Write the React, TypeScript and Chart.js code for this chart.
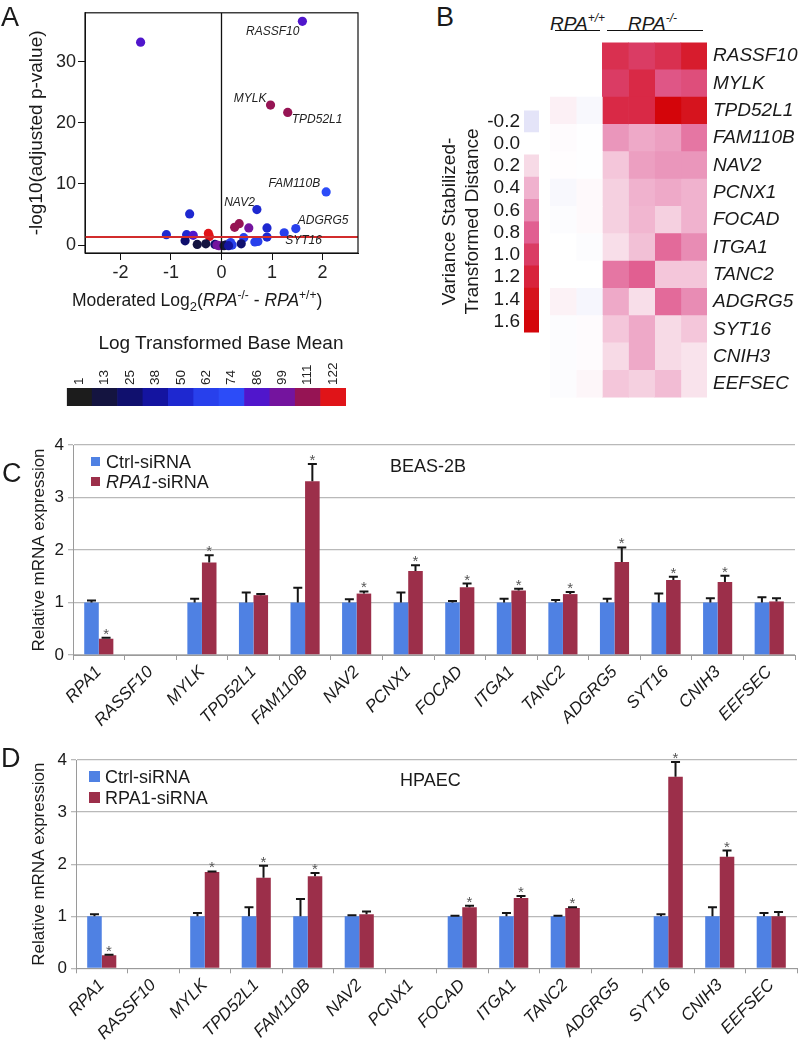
import React, { useEffect, useRef } from "react";
import { Chart, registerables } from "chart.js";

Chart.register(...registerables);

const FONT = "'Liberation Sans', Arial, Helvetica, sans-serif";
Chart.defaults.font.family = FONT;
Chart.defaults.color = "#222";

// ---------------- Panel A: volcano plot ----------------
const volcanoX = [-1.6, 1.6, 0.97, 1.31, 2.07, 0.7, -0.63, 1.47, 1.24, 0.9, 0.9, 0.54, 0.35, 0.26, -0.26, -0.24, -1.09, -0.69, -0.56, -0.72, 0.44, 0.39, 0.66, 0.72, -0.48, -0.31, -0.13, -0.09, -0.05, 0.09, 0.18, 0.21, 0.05, 0.14];
const volcanoY = [33.2, 36.6, 22.9, 21.7, 8.7, 5.8, 5.1, 2.7, 2.0, 2.8, 1.3, 2.8, 3.5, 2.9, 1.9, 1.4, 1.7, 1.7, 1.6, 0.7, 1.2, 0.2, 0.5, 0.6, 0.1, 0.2, 0.1, 0.0, -0.1, 0.05, 0.4, 0.0, -0.1, -0.1];
const volcanoBaseMean = [86, 86, 111, 111, 74, 50, 50, 62, 62, 50, 50, 99, 111, 111, 122, 122, 50, 50, 86, 25, 62, 25, 62, 62, 13, 13, 25, 99, 99, 25, 62, 62, 13, 38];
const volcanoGene = ["", "RASSF10", "MYLK", "TPD52L1", "FAM110B", "NAV2", "", "ADGRG5", "SYT16", "", "", "", "", "", "", "", "", "", "", "", "", "", "", "", "", "", "", "", "", "", "", "", "", ""];
const volcanoXTicks = [-2, -1, 0, 1, 2];
const volcanoYTicks = [0, 10, 20, 30];
const pThreshold = [1.3];

const baseMeanTicks = [1, 13, 25, 38, 50, 62, 74, 86, 99, 111, 122];
const baseMeanColors = ["#1c1c1c", "#141440", "#10106e", "#1414a0", "#1e28d0", "#2840ec", "#2c4cf8", "#5016cc", "#74149e", "#961454", "#e01418"];

// ---------------- Panel B: heatmap ----------------
const heatGenes = ["RASSF10", "MYLK", "TPD52L1", "FAM110B", "NAV2", "PCNX1", "FOCAD", "ITGA1", "TANC2", "ADGRG5", "SYT16", "CNIH3", "EEFSEC"];
const heatRASSF10 = [null, null, 1.1, 1.0, 1.1, 1.3];
const heatMYLK = [null, null, 1.0, 1.15, 0.85, 0.9];
const heatTPD52L1 = [0.08, -0.05, 1.15, 1.15, 1.6, 1.4];
const heatFAM110B = [0.02, -0.01, 0.55, 0.45, 0.5, 0.7];
const heatNAV2 = [0.01, -0.01, 0.3, 0.5, 0.55, 0.55];
const heatPCNX1 = [-0.05, 0.03, 0.25, 0.4, 0.45, 0.4];
const heatFOCAD = [-0.02, 0.03, 0.25, 0.38, 0.25, 0.4];
const heatITGA1 = [0, -0.02, 0.18, 0.33, 0.75, 0.6];
const heatTANC2 = [0, 0, 0.7, 0.8, 0.3, 0.3];
const heatADGRG5 = [0.07, -0.07, 0.45, 0.18, 0.75, 0.6];
const heatSYT16 = [-0.02, 0.02, 0.3, 0.45, 0.2, 0.3];
const heatCNIH3 = [-0.02, 0.02, 0.2, 0.45, 0.2, 0.15];
const heatEEFSEC = [-0.02, 0.05, 0.3, 0.25, 0.35, 0.15];
const heatRows = [heatRASSF10, heatMYLK, heatTPD52L1, heatFAM110B, heatNAV2, heatPCNX1, heatFOCAD, heatITGA1, heatTANC2, heatADGRG5, heatSYT16, heatCNIH3, heatEEFSEC];
const heatColumns = ["WT1", "WT2", "KO1", "KO2", "KO3", "KO4"];

const distanceTicks = [-0.2, 0.0, 0.2, 0.4, 0.6, 0.8, 1.0, 1.2, 1.4, 1.6];
const distanceColors: number[][] = [
  [228, 228, 248], [255, 255, 255], [247, 218, 230], [240, 178, 206], [232, 140, 180],
  [225, 95, 145], [218, 60, 100], [216, 35, 60], [214, 20, 30], [212, 5, 10],
];

// ---------------- Panels C & D: qPCR ----------------
const qpcrGenes = ["RPA1", "RASSF10", "MYLK", "TPD52L1", "FAM110B", "NAV2", "PCNX1", "FOCAD", "ITGA1", "TANC2", "ADGRG5", "SYT16", "CNIH3", "EEFSEC"];
const qpcrYTicks = [0, 1, 2, 3, 4];

const beasCtrl = [1, null, 1, 1, 1, 1, 1, 1, 1, 1, 1, 1, 1, 1];
const beasCtrlErr = [0.04, null, 0.07, 0.19, 0.28, 0.06, 0.19, 0.03, 0.07, 0.05, 0.07, 0.17, 0.08, 0.1];
const beasRpa = [0.31, null, 1.76, 1.14, 3.31, 1.17, 1.6, 1.29, 1.23, 1.16, 1.77, 1.43, 1.39, 1.02];
const beasRpaErr = [0.02, null, 0.14, 0.02, 0.33, 0.04, 0.11, 0.07, 0.03, 0.04, 0.28, 0.06, 0.12, 0.06];
const beasStar = [1, 0, 1, 0, 1, 1, 1, 1, 1, 1, 1, 1, 1, 0];

const hpaecCtrl = [1, null, 1, 1, 1, 1, null, 1, 1, 1, null, 1, 1, 1];
const hpaecCtrlErr = [0.04, null, 0.06, 0.17, 0.33, 0.02, null, 0.01, 0.06, 0.01, null, 0.04, 0.17, 0.06];
const hpaecRpa = [0.25, null, 1.85, 1.74, 1.77, 1.04, null, 1.17, 1.35, 1.16, null, 3.68, 2.14, 1.0];
const hpaecRpaErr = [0.01, null, 0.01, 0.23, 0.06, 0.05, null, 0.03, 0.04, 0.01, null, 0.28, 0.12, 0.08];
const hpaecStar = [1, 0, 1, 1, 1, 0, 0, 1, 1, 1, 0, 1, 1, 0];

const CTRL_COLOR = "#4f81e3";
const RPA_COLOR = "#9c2f4a";

// ---------------- helpers ----------------
function meanColor(v: number) {
  let best = 0;
  baseMeanTicks.forEach((t, i) => {
    if (Math.abs(t - v) < Math.abs(baseMeanTicks[best] - v)) best = i;
  });
  return baseMeanColors[best];
}

function distColor(v: number | null) {
  if (v == null) return "rgba(0,0,0,0)";
  const lo = distanceTicks[0];
  const step = 0.2;
  let f = (v - lo) / step;
  f = Math.max(0, Math.min(distanceTicks.length - 1, f));
  const i = Math.min(distanceTicks.length - 2, Math.floor(f));
  const t = f - i;
  const a = distanceColors[i];
  const b = distanceColors[i + 1];
  const c = a.map((x, k) => Math.round(x + (b[k] - x) * t));
  return `rgb(${c[0]},${c[1]},${c[2]})`;
}

const boxPlugin = {
  id: "box",
  afterDraw(chart: any) {
    const { ctx, chartArea: a } = chart;
    ctx.save();
    ctx.strokeStyle = "#111";
    ctx.lineWidth = 1.2;
    ctx.strokeRect(a.left, a.top, a.right - a.left, a.bottom - a.top);
    ctx.restore();
  },
};

const labelOffsets: Record<string, [number, number, CanvasTextAlign]> = {
  RASSF10: [-3, 10, "right"],
  MYLK: [-4, -6, "right"],
  TPD52L1: [4, 7, "left"],
  FAM110B: [-6, -8, "right"],
  NAV2: [-2, -7, "right"],
  ADGRG5: [2, -8, "left"],
  SYT16: [1, 8, "left"],
};

const geneLabelPlugin = {
  id: "geneLabels",
  afterDatasetsDraw(chart: any) {
    const { ctx, scales } = chart;
    ctx.save();
    ctx.font = `italic 12px ${FONT}`;
    ctx.fillStyle = "#222";
    ctx.textBaseline = "middle";
    volcanoGene.forEach((g, i) => {
      if (!g) return;
      const off = labelOffsets[g] || [4, 0, "left"];
      const px = scales.x.getPixelForValue(volcanoX[i]);
      const py = scales.y.getPixelForValue(volcanoY[i]);
      ctx.textAlign = off[2];
      ctx.fillText(g, px + off[0], py + off[1]);
    });
    ctx.restore();
  },
};

const errorBarPlugin = {
  id: "errorBars",
  afterDatasetsDraw(chart: any) {
    const { ctx } = chart;
    const y = chart.scales.y;
    chart.data.datasets.forEach((ds: any, di: number) => {
      const meta = chart.getDatasetMeta(di);
      meta.data.forEach((bar: any, i: number) => {
        const v = ds.data[i];
        if (v == null) return;
        const e = (ds.errors && ds.errors[i]) || 0;
        const base = y.getPixelForValue(v);
        const top = y.getPixelForValue(v + e);
        ctx.save();
        ctx.strokeStyle = "#151515";
        ctx.lineWidth = 2;
        ctx.beginPath();
        ctx.moveTo(bar.x, base);
        ctx.lineTo(bar.x, top);
        ctx.moveTo(bar.x - 4.5, top);
        ctx.lineTo(bar.x + 4.5, top);
        ctx.stroke();
        if (ds.stars && ds.stars[i]) {
          ctx.fillStyle = "#555";
          ctx.font = `15px ${FONT}`;
          ctx.textAlign = "center";
          ctx.textBaseline = "alphabetic";
          ctx.fillText("*", bar.x, top + 1);
        }
        ctx.restore();
      });
    });
  },
};

function ChartCanvas({ left, top, width, height, make }: any) {
  const ref = useRef<HTMLCanvasElement>(null);
  useEffect(() => {
    const chart = new Chart(ref.current as HTMLCanvasElement, make());
    return () => chart.destroy();
  }, []);
  return (
    <canvas
      ref={ref}
      width={width}
      height={height}
      style={{ position: "absolute", left, top, width, height }}
    />
  );
}

function Txt({ x, y, size, italic, bold, anchor, children }: any) {
  const style: any = {
    position: "absolute",
    top: y - size * 0.49,
    fontSize: size,
    lineHeight: 1,
    fontFamily: FONT,
    fontStyle: italic ? "italic" : "normal",
    fontWeight: bold ? "bold" : "normal",
    color: "#1a1a1a",
    whiteSpace: "nowrap",
  };
  if (anchor === "middle") {
    style.left = x;
    style.transform = "translateX(-50%)";
  } else if (anchor === "end") {
    style.right = 802 - x;
  } else {
    style.left = x;
  }
  return <div style={style}>{children}</div>;
}

function Line({ x1, x2, y }: any) {
  return <div style={{ position: "absolute", left: x1, top: y, width: x2 - x1, height: 0, borderTop: "1.5px solid #111" }} />;
}

function Swatch({ x, y, size, color }: any) {
  return <div style={{ position: "absolute", left: x, top: y, width: size, height: size, background: color }} />;
}

// ---------------- chart configs ----------------
function volcanoConfig(): any {
  const pts = volcanoX.map((x, i) => ({ x, y: volcanoY[i] }));
  return {
    type: "scatter",
    data: {
      datasets: [
        {
          data: [{ x: 0, y: -1.3 }, { x: 0, y: 38 }],
          showLine: true,
          borderColor: "#111",
          borderWidth: 1.3,
          pointRadius: 0,
          order: 1,
        },
        {
          data: [{ x: -2.7, y: pThreshold[0] }, { x: 2.7, y: pThreshold[0] }],
          showLine: true,
          borderColor: "#d22c2c",
          borderWidth: 2,
          pointRadius: 0,
          order: 0,
        },
        {
          data: pts,
          pointBackgroundColor: volcanoBaseMean.map(meanColor),
          pointBorderWidth: 0,
          pointRadius: 4.6,
          order: 2,
        },
      ],
    },
    options: {
      responsive: false,
      animation: false,
      devicePixelRatio: 1,
      layout: { padding: { left: 0, right: 7, top: 8, bottom: 0 } },
      plugins: { legend: { display: false }, tooltip: { enabled: false } },
      scales: {
        x: {
          type: "linear",
          min: -2.7,
          max: 2.7,
          afterBuildTicks: (s: any) => { s.ticks = volcanoXTicks.map((v) => ({ value: v })); },
          ticks: { font: { size: 18 }, color: "#222", padding: 2 },
          grid: { drawOnChartArea: false, tickLength: 7, color: "#111" },
          border: { display: true, color: "#111" },
          afterFit: (s: any) => { s.height = 37; },
        },
        y: {
          type: "linear",
          min: -1.3,
          max: 38,
          afterBuildTicks: (s: any) => { s.ticks = volcanoYTicks.map((v) => ({ value: v })); },
          ticks: { font: { size: 18 }, color: "#222", padding: 2 },
          grid: { drawOnChartArea: false, tickLength: 7, color: "#111" },
          border: { display: true, color: "#111" },
          title: { display: true, text: "-log10(adjusted p-value)", font: { size: 19 }, color: "#1a1a1a", padding: { top: 25, bottom: 0 } },
          afterFit: (s: any) => { s.width = 85; },
        },
      },
    },
    plugins: [boxPlugin, geneLabelPlugin],
  };
}

function baseMeanBarConfig(): any {
  return {
    type: "bar",
    data: {
      labels: baseMeanTicks.map(String),
      datasets: [{ data: baseMeanTicks.map(() => [0, 1]), backgroundColor: baseMeanColors, barPercentage: 1, categoryPercentage: 1, borderWidth: 0 }],
    },
    options: {
      responsive: false,
      animation: false,
      devicePixelRatio: 1,
      layout: { padding: { left: 6, right: 6, top: 2, bottom: 4 } },
      plugins: { legend: { display: false }, tooltip: { enabled: false } },
      scales: {
        x: {
          position: "top",
          ticks: { minRotation: 90, maxRotation: 90, font: { size: 13.5 }, color: "#222", padding: 3, autoSkip: false, labelOffset: 16 },
          grid: { display: false, drawTicks: false },
          border: { display: false },
          afterFit: (s: any) => { s.height = 37; },
        },
        y: { display: false, min: 0, max: 1 },
      },
    },
  };
}

function heatmapConfig(): any {
  return {
    type: "bar",
    data: {
      labels: heatGenes,
      datasets: heatColumns.map((name, j) => ({
        label: name,
        data: heatRows.map((row) => (row[j] == null ? null : [j, j + 1])),
        backgroundColor: heatRows.map((row) => distColor(row[j])),
        grouped: false,
        barPercentage: 1,
        categoryPercentage: 1,
        borderWidth: 0,
      })),
    },
    options: {
      indexAxis: "y",
      responsive: false,
      animation: false,
      devicePixelRatio: 1,
      layout: { padding: { left: 5, right: 0, top: 8.3, bottom: 5 } },
      plugins: { legend: { display: false }, tooltip: { enabled: false } },
      scales: {
        x: { type: "linear", min: 0, max: 6, display: false },
        y: {
          position: "right",
          ticks: { font: { size: 19, style: "italic" }, color: "#1a1a1a", padding: 6, autoSkip: false },
          grid: { display: false, drawTicks: false },
          border: { display: false },
          afterFit: (s: any) => { s.width = 95; },
        },
      },
    },
  };
}

function distanceBarConfig(): any {
  return {
    type: "bar",
    data: {
      labels: distanceTicks.map((v) => v.toFixed(1)),
      datasets: [{ data: distanceTicks.map(() => [0, 1]), backgroundColor: distanceTicks.map((v) => distColor(v)), barPercentage: 1, categoryPercentage: 1, borderWidth: 0 }],
    },
    options: {
      indexAxis: "y",
      responsive: false,
      animation: false,
      devicePixelRatio: 1,
      layout: { padding: { left: 0, right: 6, top: 5.7, bottom: 5.3 } },
      plugins: { legend: { display: false }, tooltip: { enabled: false } },
      scales: {
        x: { type: "linear", min: 0, max: 1, display: false },
        y: {
          position: "left",
          ticks: { font: { size: 19 }, color: "#1a1a1a", padding: 4, autoSkip: false },
          grid: { display: false, drawTicks: false },
          border: { display: false },
          title: { display: true, text: ["Variance Stabilized-", "Transformed Distance"], font: { size: 19 }, color: "#1a1a1a", padding: { top: 8.6, bottom: 0 } },
          afterFit: (s: any) => { s.width = 94; },
        },
      },
    },
  };
}

function qpcrConfig(ctrl: any[], ctrlErr: any[], rpa: any[], rpaErr: any[], stars: number[], yWidth: number, rightPad: number, xHeight: number): any {
  return {
    type: "bar",
    data: {
      labels: qpcrGenes,
      datasets: [
        { label: "Ctrl-siRNA", data: ctrl, backgroundColor: CTRL_COLOR, errors: ctrlErr, stars: ctrl.map(() => 0), borderWidth: 0 },
        { label: "RPA1-siRNA", data: rpa, backgroundColor: RPA_COLOR, errors: rpaErr, stars, borderWidth: 0 },
      ],
    },
    options: {
      responsive: false,
      animation: false,
      devicePixelRatio: 1,
      categoryPercentage: 0.565,
      barPercentage: 1,
      layout: { padding: { left: 0, right: rightPad, top: 15, bottom: 0 } },
      plugins: { legend: { display: false }, tooltip: { enabled: false } },
      scales: {
        x: {
          ticks: { font: { size: 17, style: "italic" }, color: "#1a1a1a", minRotation: 46, maxRotation: 46, padding: 2, autoSkip: false },
          grid: { drawOnChartArea: false, offset: true, tickLength: 5, color: "#9a9a9a" },
          border: { display: true, color: "#9a9a9a" },
          afterFit: (s: any) => { s.height = xHeight; },
        },
        y: {
          min: 0,
          max: 4,
          afterBuildTicks: (s: any) => { s.ticks = qpcrYTicks.map((v) => ({ value: v })); },
          ticks: { font: { size: 17 }, color: "#1a1a1a", padding: 4 },
          grid: { color: "#b9b9b9", lineWidth: 1.3, tickLength: 5 },
          border: { display: true, color: "#9a9a9a" },
          title: { display: true, text: "Relative mRNA expression", font: { size: 17 }, color: "#1a1a1a", padding: { top: 28.8, bottom: 0 } },
          afterFit: (s: any) => { s.width = yWidth; },
        },
      },
    },
    plugins: [errorBarPlugin],
  };
}

export default function App() {
  return (
    <div style={{ position: "absolute", left: 0, top: 0, width: 802, height: 1042, background: "#fff", overflow: "hidden", fontFamily: FONT }}>
      {/* Panel A */}
      <ChartCanvas left={0} top={0} width={365} height={290} make={volcanoConfig} />
      <Txt x={1} y={17} size={27}>A</Txt>
      <Txt x={72} y={298} size={17.5}>
        Moderated Log<sub style={{ fontSize: 13, verticalAlign: -5 }}>2</sub>(<i>RPA</i>
        <sup style={{ fontSize: 12, verticalAlign: 7 }}>-/-</sup> - <i>RPA</i>
        <sup style={{ fontSize: 12, verticalAlign: 7 }}>+/+</sup>)
      </Txt>
      <Txt x={221} y={342} size={19} anchor="middle">Log Transformed Base Mean</Txt>
      <ChartCanvas left={60} top={349} width={292} height={61} make={baseMeanBarConfig} />

      {/* Panel B */}
      <Txt x={436} y={17.5} size={27}>B</Txt>
      <Txt x={550} y={21} size={19} italic>
        RPA<sup style={{ fontSize: 12, verticalAlign: 8 }}>+/+</sup>
      </Txt>
      <Txt x={628} y={21} size={19} italic>
        RPA<sup style={{ fontSize: 12, verticalAlign: 8 }}>-/-</sup>
      </Txt>
      <Line x1={555} x2={600} y={30} />
      <Line x1={607} x2={703} y={30} />
      <ChartCanvas left={430} top={95} width={115} height={253} make={distanceBarConfig} />
      <ChartCanvas left={545} top={25} width={257} height={390} make={heatmapConfig} />

      {/* Panel C */}
      <ChartCanvas left={0} top={430} width={802} height={310}
        make={() => qpcrConfig(beasCtrl, beasCtrlErr, beasRpa, beasRpaErr, beasStar, 73, 7, 85)} />
      <Txt x={2} y={473} size={27}>C</Txt>
      <Swatch x={91} y={457} size={9} color={CTRL_COLOR} />
      <Txt x={106} y={462} size={18}>Ctrl-siRNA</Txt>
      <Swatch x={91} y={477} size={9} color={RPA_COLOR} />
      <Txt x={106} y={482} size={18}><i>RPA1</i>-siRNA</Txt>
      <Txt x={390} y={466} size={18}>BEAS-2B</Txt>

      {/* Panel D */}
      <ChartCanvas left={0} top={745} width={802} height={297}
        make={() => qpcrConfig(hpaecCtrl, hpaecCtrlErr, hpaecRpa, hpaecRpaErr, hpaecStar, 76, 5, 73.7)} />
      <Txt x={1} y={758} size={27}>D</Txt>
      <Swatch x={89} y={771} size={11} color={CTRL_COLOR} />
      <Txt x={105} y={777} size={18}>Ctrl-siRNA</Txt>
      <Swatch x={89} y={792} size={11} color={RPA_COLOR} />
      <Txt x={105} y={798} size={18}>RPA1-siRNA</Txt>
      <Txt x={400} y={780} size={18}>HPAEC</Txt>
    </div>
  );
}
